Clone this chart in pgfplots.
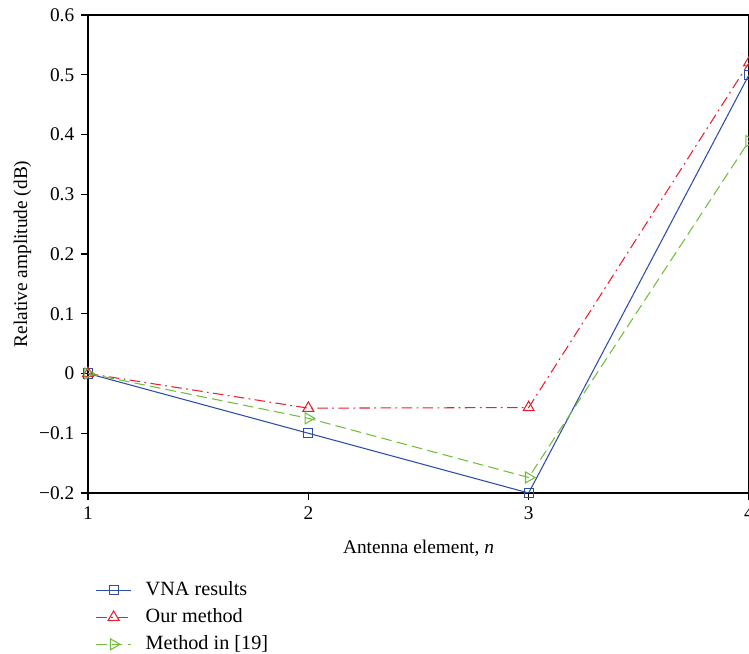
\documentclass[border=0pt]{standalone}
\usepackage{pgfplots}
\pgfplotsset{compat=1.18}
\usepackage{fontspec}
\setmainfont{Liberation Serif}
\definecolor{vnablue}{RGB}{45,75,170}
\definecolor{ourred}{RGB}{235,30,45}
\definecolor{refgreen}{RGB}{110,190,60}

\begin{document}
\fontsize{11}{13}\selectfont
\begin{tikzpicture}
\begin{axis}[
    at={(1.76cm,3.22cm)}, anchor=south west,
    scale only axis,
    width=13.22cm, height=9.56cm,
    xmin=1, xmax=4, ymin=-0.2, ymax=0.6,
    xtick={1,2,3,4},
    ytick={-0.2,-0.1,0,0.1,0.2,0.3,0.4,0.5,0.6},
    yticklabels={−0.2,−0.1,0,0.1,0.2,0.3,0.4,0.5,0.6},
    /pgf/number format/assume math mode=true,
    tick align=outside, tick pos=left,
    major tick length=4pt,
    tick style={black, line width=0.6pt},
    axis line style={line width=0.6pt},
    xlabel={Antenna element, \textit{n}},
    ylabel={Relative amplitude (dB)},
    xlabel style={yshift=-4pt},
    ylabel style={yshift=-3pt},
    legend style={at={(rel axis cs:0.003,-0.17)}, anchor=north west, draw=none, fill=none,
        legend cell align=left, row sep=1.8pt, font=\fontsize{11.5}{13}\selectfont,
        /tikz/every odd column/.append style={column sep=6pt}},
    legend image code/.code={
        \draw[mark repeat=2,mark phase=2] plot coordinates {(0cm,0cm) (0.35cm,0cm) (0.7cm,0cm)};},
]
\addplot[vnablue, line width=0.6pt, mark=square, mark size=2.6pt, mark options={solid}]
    coordinates {(1,0) (2,-0.1) (3,-0.2) (4,0.5)};
\addplot[ourred, line width=0.6pt, dash pattern=on 6pt off 2.5pt on 1pt off 2.5pt, mark=triangle, mark size=3.6pt, mark options={solid}]
    coordinates {(1,0) (2,-0.058) (3,-0.057) (4,0.52)};
\addplot[refgreen, line width=0.6pt, dash pattern=on 6pt off 3pt, mark=triangle, mark size=3.6pt, mark options={solid, rotate=-90}]
    coordinates {(1,0) (2,-0.075) (3,-0.174) (4,0.389)};
\legend{VNA results, Our method, Method in [19]}
\end{axis}
\pgfresetboundingbox
\path[use as bounding box] (0,0) rectangle (14.98cm,13.08cm);
\end{tikzpicture}
\end{document}
